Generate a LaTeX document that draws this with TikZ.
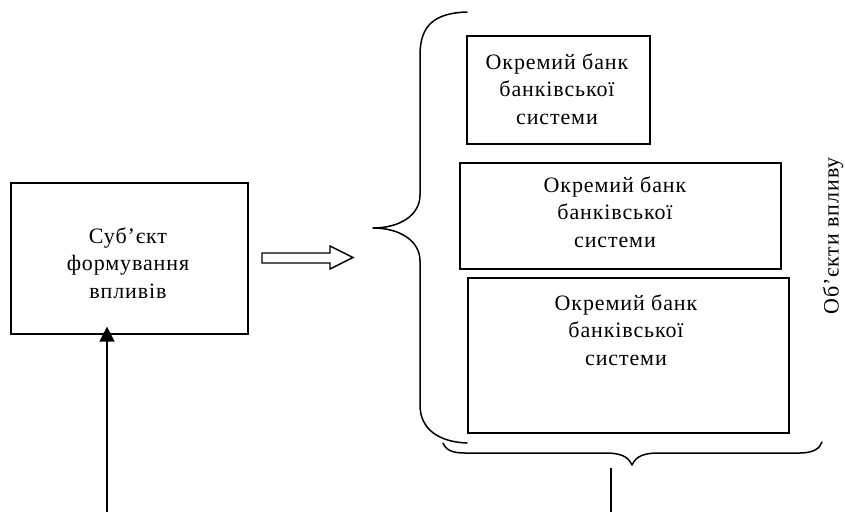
\documentclass[tikz,border=0pt]{standalone}
\usepackage{fontspec}
\setmainfont{Liberation Serif}[LetterSpace=4]
\usetikzlibrary{arrows.meta}
\begin{document}
\begin{tikzpicture}[x=1pt,y=-1pt,line width=1.6pt,
  box/.style={draw,line width=1.6pt,inner sep=0pt,anchor=north west},
  lbl/.style={font=\fontsize{22}{27.5}\selectfont,align=center,inner sep=0pt},
  brace/.style={line width=1.5pt,line cap=round,line join=round}]
\useasboundingbox (0,0) rectangle (845,512);

% boxes
\node[box,minimum width=237pt,minimum height=151pt] (subj) at (10,182) {};
\node[box,minimum width=183pt,minimum height=108pt] (b1) at (466,35) {};
\node[box,minimum width=321pt,minimum height=106pt] (b2) at (459,162) {};
\node[box,minimum width=321pt,minimum height=155pt] (b3) at (467,277) {};

% labels
\node[lbl] (tsubj) at (128,263) {Суб’єкт\\формування\\впливів};
\node[lbl] (t1) at (557,89) {Окремий банк\\банківської\\системи};
\node[lbl] (t2) at (615,212) {Окремий банк\\банківської\\системи};
\node[lbl] (t3) at (626,330) {Окремий банк\\банківської\\системи};
\node[lbl,rotate=90] (tobj) at (833,236) {Об’єкти впливу};

% hollow arrow
\draw[line width=1.4pt,line join=miter] (262,253) -- (330,253) -- (330,246) -- (353,257.5)
  -- (330,269) -- (330,263) -- (262,263) -- cycle;

% left brace
\draw[brace] (467,12) .. controls (435,13) and (420,25) .. (420,55)
  -- (420,195) .. controls (420,215) and (400,228) .. (373,228)
  .. controls (400,228) and (420,241) .. (420,261)
  -- (420,405) .. controls (420,430) and (440,442) .. (467,443);

% bottom brace
\draw[brace] (443,443) .. controls (446,450) and (452,453) .. (465,453)
  -- (605,453) .. controls (620,453) and (628,456) .. (632,465)
  .. controls (636,456) and (644,453) .. (659,453)
  -- (800,453) .. controls (812,453) and (820,449) .. (822,442);

% connectors
\coordinate (src) at (107,512);
\coordinate (bt) at (611,468);
\coordinate (bb) at (611,512);
\draw[line width=1.5pt,-{Triangle[length=15pt,width=15pt]},shorten >=-8pt] (src) -- (src |- subj.south);
\draw[line width=1.5pt] (bt) -- (bb);
\end{tikzpicture}
\end{document}
